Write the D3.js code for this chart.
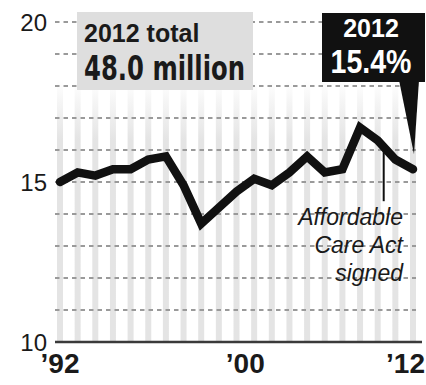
<!DOCTYPE html>
<html>
<head>
<meta charset="utf-8">
<script src="https://cdn.jsdelivr.net/npm/d3@7"></script>
<style>
  body { margin: 0; background: #fff; }
  svg { display: block; }
</style>
</head>
<body>
<script>
var years = [1992,1993,1994,1995,1996,1997,1998,1999,2000,2001,2002,2003,2004,2005,2006,2007,2008,2009,2010,2011,2012];
var uninsured = [15.0,15.3,15.2,15.4,15.4,15.7,15.8,14.9,13.7,14.2,14.7,15.1,14.9,15.3,15.8,15.3,15.4,16.7,16.3,15.7,15.4];
var yTicks = [10, 15, 20];
var gridVals = [11,12,13,14,15,16,17,18,19,20];
var xLabelAt = [1992, 2002.5, 2012];
var xLabels = ["\u201992", "\u201900", "\u201912"];
var acaYear = 2010;

var width = 426, height = 385;
var x = d3.scaleLinear().domain([1992, 2012]).range([60, 413]);
var y = d3.scaleLinear().domain([10, 20]).range([342, 22]);

var svg = d3.select("body").append("svg").attr("width", width).attr("height", height);

// fading year bars
var defs = svg.append("defs");
var grad = defs.append("linearGradient").attr("id", "fade")
  .attr("gradientUnits", "userSpaceOnUse")
  .attr("x1", 0).attr("x2", 0).attr("y1", y(18.2)).attr("y2", y(16.3));
grad.append("stop").attr("offset", "0").attr("stop-color", "#e4e4e4").attr("stop-opacity", 0);
grad.append("stop").attr("offset", "1").attr("stop-color", "#e4e4e4").attr("stop-opacity", 1);

svg.append("g").selectAll("rect")
  .data(years)
  .enter().append("rect")
    .attr("x", function(d) { return x(d) - 3; })
    .attr("width", 6)
    .attr("y", y(18.2))
    .attr("height", y(10) - y(18.2))
    .attr("fill", "url(#fade)");

// dashed gridlines
svg.append("g").selectAll("line")
  .data(gridVals)
  .enter().append("line")
    .attr("x1", 55).attr("x2", 416)
    .attr("y1", function(d) { return y(d); })
    .attr("y2", function(d) { return y(d); })
    .attr("stroke", "#9a9a9a")
    .attr("stroke-width", 2)
    .attr("stroke-dasharray", "4.5,4");

// baseline
svg.append("line")
  .attr("x1", 55).attr("x2", 422)
  .attr("y1", y(10)).attr("y2", y(10))
  .attr("stroke", "#3a3a3a").attr("stroke-width", 2.5);

// y labels
svg.append("g").selectAll("text")
  .data(yTicks)
  .enter().append("text")
    .attr("x", 47)
    .attr("y", function(d) { return y(d); })
    .attr("dy", "0.36em")
    .attr("text-anchor", "end")
    .attr("font-family", "Liberation Sans, Arial, sans-serif")
    .attr("font-size", 24)
    .attr("fill", "#1a1a1a")
    .text(function(d) { return d; });

// x labels (last one held inside the right edge)
svg.append("g").selectAll("text")
  .data(xLabels)
  .enter().append("text")
    .attr("x", function(d, i) { return i === xLabels.length - 1 ? width - 1 : x(xLabelAt[i]); })
    .attr("y", 373)
    .attr("text-anchor", function(d, i) { return i === xLabels.length - 1 ? "end" : "middle"; })
    .attr("font-family", "Liberation Sans, Arial, sans-serif")
    .attr("font-weight", "bold")
    .attr("font-size", 28)
    .attr("fill", "#1a1a1a")
    .text(function(d) { return d; });

// ACA marker
svg.append("line")
  .attr("x1", x(acaYear) + 6).attr("x2", x(acaYear) + 6)
  .attr("y1", y(16.0)).attr("y2", y(14.4))
  .attr("stroke", "#111").attr("stroke-width", 2);

var acaText = svg.append("text")
  .attr("text-anchor", "end")
  .attr("font-family", "Liberation Sans, Arial, sans-serif")
  .attr("font-style", "italic")
  .attr("font-size", 23)
  .attr("fill", "#1a1a1a");
["Affordable", "Care Act", "signed"].forEach(function(t, i) {
  acaText.append("tspan").attr("x", 403).attr("y", 225 + i * 28).text(t);
});

// the line
var line = d3.line()
  .x(function(d, i) { return x(years[i]); })
  .y(function(d) { return y(d); });

svg.append("path")
  .datum(uninsured)
  .attr("d", line)
  .attr("fill", "none")
  .attr("stroke", "#111")
  .attr("stroke-width", 8.5)
  .attr("stroke-linecap", "round")
  .attr("stroke-linejoin", "miter");

// total box
svg.append("rect")
  .attr("x", 77).attr("y", 12).attr("width", 176).attr("height", 78)
  .attr("fill", "#dedede");
svg.append("text")
  .attr("x", 84).attr("y", 42)
  .attr("font-family", "Liberation Sans, Arial, sans-serif")
  .attr("font-weight", "bold")
  .attr("font-size", 25)
  .attr("fill", "#1a1a1a")
  .text("2012 total");
svg.append("text")
  .attr("x", 84).attr("y", 80)
  .attr("font-family", "Liberation Sans Narrow, DejaVu Sans Condensed, sans-serif")
  .attr("font-weight", "bold")
  .attr("font-size", 33)
  .attr("textLength", 161)
  .attr("lengthAdjust", "spacingAndGlyphs")
  .attr("fill", "#1a1a1a")
  .text("48.0 million");

// 2012 callout
var last = uninsured[uninsured.length - 1];
svg.append("path")
  .attr("d", "M399,80L419,80L" + (x(2012) + 1) + "," + (y(last) - 15) + "Z")
  .attr("fill", "#111");
svg.append("rect")
  .attr("x", 322).attr("y", 13).attr("width", 103).attr("height", 69)
  .attr("fill", "#111");
svg.append("text")
  .attr("x", 371).attr("y", 37)
  .attr("text-anchor", "middle")
  .attr("font-family", "Liberation Sans, Arial, sans-serif")
  .attr("font-weight", "bold")
  .attr("font-size", 25)
  .attr("fill", "#fff")
  .text("2012");
svg.append("text")
  .attr("transform", "translate(371,73) scale(0.84,1)")
  .attr("text-anchor", "middle")
  .attr("font-family", "Liberation Sans, Arial, sans-serif")
  .attr("font-weight", "bold")
  .attr("font-size", 34)
  .attr("fill", "#fff")
  .text(last.toFixed(1) + "%");
</script>
</body>
</html>
